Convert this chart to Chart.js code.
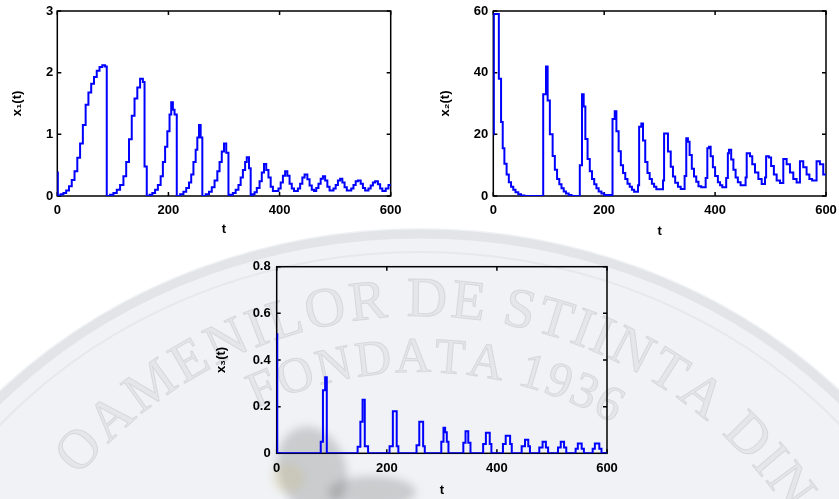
<!DOCTYPE html>
<html>
<head>
<meta charset="utf-8">
<script src="https://cdn.jsdelivr.net/npm/chart.js@4.4.1/dist/chart.umd.min.js"></script>
<style>
  body { margin: 0; background: #fff; }
  #wrap { position: relative; width: 839px; height: 499px; overflow: hidden; }
  canvas { position: absolute; }
</style>
</head>
<body>
<div id="wrap">
  <canvas id="seal" width="839" height="499" style="left:0;top:0"></canvas>
  <canvas id="c1" width="415" height="240" style="left:0;top:0"></canvas>
  <canvas id="c2" width="419" height="240" style="left:420px;top:0"></canvas>
  <canvas id="c3" width="440" height="249" style="left:200px;top:250px"></canvas>
</div>
<script>
// Tick labels
const tTicks = [0, 200, 400, 600];
const x1Ticks = [0, 1, 2, 3];
const x2Ticks = [0, 20, 40, 60];
const x3Ticks = [0, 0.2, 0.4, 0.6, 0.8];

// x1(t): step changes (time, value)
const x1Time = [0, 1, 6, 11, 16, 21, 26, 31, 36, 41, 46, 51, 56, 61, 66, 71, 76, 81, 86, 89,
  95, 101, 107, 113, 119, 124, 129, 134, 139, 144, 149, 154, 157, 161,
  166, 171, 176, 181, 186, 190, 194, 198, 202, 205, 208, 211, 215,
  221, 227, 232, 237, 241, 245, 249, 252, 255, 258, 261,
  267, 273, 278, 283, 288, 292, 296, 300, 304, 308,
  311, 316, 321, 326, 330, 334, 338, 341, 345, 348,
  351, 355, 359, 364, 368, 372, 376, 380, 384, 388,
  398, 402, 406, 410, 414, 418, 422, 426,
  433, 437, 441, 445, 450, 454, 458, 462,
  466, 470, 474, 478, 482, 486, 490,
  497, 501, 505, 509, 513, 517, 521,
  529, 533, 537, 541, 546, 550, 554,
  560, 564, 568, 572, 577, 581, 585, 591, 596, 600];
const x1Value = [0.38, 0.01, 0.03, 0.05, 0.09, 0.16, 0.26, 0.4, 0.62, 0.85, 1.15, 1.48, 1.68, 1.82, 1.93, 2.03, 2.09, 2.12, 2.1, 0,
  0.02, 0.05, 0.1, 0.18, 0.32, 0.55, 0.92, 1.3, 1.58, 1.76, 1.9, 1.85, 0.48, 0,
  0.02, 0.05, 0.1, 0.18, 0.32, 0.55, 0.8, 1.05, 1.32, 1.52, 1.4, 1.32, 0,
  0.03, 0.07, 0.13, 0.22, 0.35, 0.55, 0.75, 0.95, 1.15, 0.95, 0,
  0.03, 0.07, 0.14, 0.25, 0.4, 0.55, 0.72, 0.85, 0.7, 0,
  0.02, 0.05, 0.1, 0.18, 0.3, 0.42, 0.55, 0.63, 0.45, 0,
  0.03, 0.06, 0.13, 0.24, 0.38, 0.52, 0.42, 0.3, 0.15, 0.08,
  0.12, 0.22, 0.33, 0.4, 0.33, 0.2, 0.12, 0.08,
  0.12, 0.2, 0.3, 0.35, 0.27, 0.17, 0.1, 0.08,
  0.13, 0.2, 0.28, 0.32, 0.25, 0.15, 0.09,
  0.12, 0.18, 0.25, 0.28, 0.22, 0.14, 0.09,
  0.12, 0.18, 0.24, 0.25, 0.2, 0.13, 0.09,
  0.12, 0.17, 0.22, 0.24, 0.19, 0.12, 0.08, 0.12, 0.18, 0.2];

// x2(t)
const x2Time = [0, 1, 10, 14, 17, 20, 24, 28, 32, 36, 40, 45, 50, 56,
  90, 95, 98, 102, 107, 111, 115, 119, 123, 127, 131, 136, 141,
  156, 160, 163, 166, 170, 174, 178, 182, 186, 190, 195, 200,
  215, 219, 222, 226, 230, 234, 238, 242, 246, 250, 254,
  261, 263, 267, 270, 274, 278, 282, 286, 290, 294,
  306, 308, 315, 320, 324, 328, 333, 338,
  345, 348, 351, 354, 358, 362, 366, 370, 375,
  383, 386, 389, 392, 396, 400, 405, 409, 413,
  420, 423, 425, 429, 433, 437, 441, 446,
  455, 457, 463, 467, 472, 478, 484,
  490, 492, 497, 501, 506, 511, 517,
  523, 529, 535, 541, 547,
  553, 559, 565, 570, 575,
  583, 589, 595, 600];
const x2Value = [20, 59, 38, 24, 15.5, 10.5, 7, 4.5, 3, 2, 1.2, 0.6, 0.2, 0,
  33, 42, 31, 20, 13, 8.5, 5.5, 3.8, 2.5, 1.5, 0.8, 0.3, 0,
  10, 33, 29, 18.5, 12, 8, 5.5, 3.8, 2.5, 1.5, 0.8, 0.3,
  25, 27.5, 21, 14.5, 10, 7.5, 5.5, 4, 3, 2, 1.4,
  3.5, 22.5, 23.5, 18, 11, 7.5, 5.5, 4, 3, 2.2,
  5, 20.3, 14.4, 9.5, 6.3, 4.3, 3, 2.3,
  6.5, 18.7, 17.6, 13.3, 8.8, 6.3, 4.6, 3.2, 2.8,
  5.8, 15.5, 16, 12.9, 9.3, 6.5, 4.5, 3.5, 2.8,
  5.8, 13.9, 15, 11.8, 8.5, 6, 4.5, 3.5,
  6, 13.9, 12.9, 10.3, 7.6, 5.5, 3.9,
  6, 12.9, 12.5, 9.7, 7, 5, 4.2,
  12, 10.3, 7.6, 5.5, 4.4,
  11.3, 9.3, 7, 5.5, 5,
  11.3, 10.3, 7, 7];

// x3(t)
const x3Time = [0, 1,
  80, 84, 88, 91,
  147, 152, 156, 160, 166,
  205, 211, 218, 221,
  254, 259, 266, 269,
  299, 303, 306, 309, 312,
  339, 343, 348, 352,
  375, 380, 387, 390,
  411, 416, 424, 427,
  445, 451, 457, 460,
  477, 483, 489, 493,
  511, 516, 522, 526,
  543, 547, 554, 558,
  574, 578, 586, 590, 600];
const x3Value = [0.51, 0,
  0.05, 0.27, 0.326, 0,
  0.028, 0.135, 0.23, 0.03, 0,
  0.03, 0.18, 0.03, 0,
  0.035, 0.135, 0.03, 0,
  0.05, 0.11, 0.09, 0.05, 0,
  0.045, 0.095, 0.045, 0,
  0.04, 0.088, 0.04, 0,
  0.04, 0.075, 0.04, 0,
  0.03, 0.058, 0.03, 0,
  0.025, 0.05, 0.025, 0,
  0.025, 0.05, 0.025, 0,
  0.02, 0.042, 0.02, 0,
  0.02, 0.042, 0.02, 0, 0];

const tickFont = { family: '"Liberation Sans", Arial, sans-serif', size: 13, weight: 'bold' };
const titleFont = { family: '"Liberation Sans", Arial, sans-serif', size: 13, weight: 'bold' };
const yTitleFont = { family: '"Liberation Sans", Arial, sans-serif', size: 13, weight: 'bold' };

// box around the plot with inward ticks on all sides
const framePlugin = {
  id: 'frame',
  beforeDatasetsDraw(chart) {
    const { ctx, chartArea: a, scales: { x, y } } = chart;
    ctx.save();
    ctx.strokeStyle = '#000';
    ctx.lineWidth = 1.5;
    ctx.strokeRect(a.left, a.top, a.right - a.left, a.bottom - a.top);
    ctx.beginPath();
    x.ticks.forEach(tk => {
      const px = x.getPixelForValue(tk.value);
      ctx.moveTo(px, a.bottom); ctx.lineTo(px, a.bottom - 4);
      ctx.moveTo(px, a.top); ctx.lineTo(px, a.top + 4);
    });
    y.ticks.forEach(tk => {
      const py = y.getPixelForValue(tk.value);
      ctx.moveTo(a.left, py); ctx.lineTo(a.left + 4, py);
      ctx.moveTo(a.right, py); ctx.lineTo(a.right - 4, py);
    });
    ctx.stroke();
    ctx.restore();
  }
};

function makeChart(id, times, values, yTicks, yLabel, pad, yWidth, xHeight, yPad) {
  return new Chart(document.getElementById(id), {
    type: 'line',
    data: {
      datasets: [{
        data: times.map((t, i) => ({ x: t, y: values[i] })),
        borderColor: '#0000ff',
        borderWidth: 2,
        stepped: true,
        pointRadius: 0,
        fill: false
      }]
    },
    options: {
      responsive: false,
      animation: false,
      layout: { padding: pad },
      plugins: { legend: { display: false }, tooltip: { enabled: false } },
      scales: {
        x: {
          type: 'linear',
          min: tTicks[0],
          max: tTicks[tTicks.length - 1],
          afterBuildTicks: s => { s.ticks = tTicks.map(v => ({ value: v })); },
          afterFit: s => { s.height = xHeight; s.paddingLeft = 0; s.paddingRight = 0; },
          grid: { display: false, drawTicks: false },
          border: { display: false },
          ticks: { color: '#000', font: tickFont, padding: 7, maxRotation: 0, autoSkip: false },
          title: { display: true, text: 't', color: '#000', font: titleFont, padding: 0 }
        },
        y: {
          type: 'linear',
          min: yTicks[0],
          max: yTicks[yTicks.length - 1],
          afterBuildTicks: s => { s.ticks = yTicks.map(v => ({ value: v })); },
          afterFit: s => { s.width = yWidth; s.paddingTop = 0; s.paddingBottom = 0; },
          grid: { display: false, drawTicks: false },
          border: { display: false },
          ticks: { color: '#000', font: tickFont, padding: yPad, autoSkip: false },
          title: { display: true, text: yLabel, color: '#000', font: yTitleFont, padding: 0 }
        }
      }
    },
    plugins: [framePlugin]
  });
}

// faint seal watermark behind the plots
function arcText(g, text, cx, cy, r, a0, a1, font) {
  g.save();
  g.font = font;
  g.textAlign = 'center';
  g.textBaseline = 'alphabetic';
  const chars = [...text];
  const widths = chars.map(ch => g.measureText(ch).width);
  let total = 0;
  for (let i = 1; i < chars.length; i++) total += (widths[i - 1] + widths[i]) / 2;
  let acc = 0;
  chars.forEach((ch, i) => {
    if (i > 0) acc += (widths[i - 1] + widths[i]) / 2;
    const a = (a0 + (a1 - a0) * acc / total) * Math.PI / 180;
    g.save();
    g.translate(cx + r * Math.cos(a), cy + r * Math.sin(a));
    g.rotate(a + Math.PI / 2);
    g.fillStyle = '#e4e6e9';
    g.fillText(ch, 0, 0);
    g.strokeStyle = '#d6d8db';
    g.lineWidth = 1;
    g.strokeText(ch, 0, 0);
    g.restore();
  });
  g.restore();
}

function drawSeal() {
  const g = document.getElementById('seal').getContext('2d');
  const cx = 420, cy = 760;
  g.fillStyle = '#ffffff';
  g.fillRect(0, 0, 839, 499);
  // slightly wide ellipse so the rim reaches the sides higher up
  g.save();
  g.translate(cx, cy);
  g.scale(1.1, 1);
  g.fillStyle = '#f0f2f5';
  g.beginPath(); g.arc(0, 0, 532, 0, Math.PI * 2); g.fill();
  g.strokeStyle = '#e2e4e7';
  g.lineWidth = 9;
  g.beginPath(); g.arc(0, 0, 526, 0, Math.PI * 2); g.stroke();
  g.strokeStyle = '#e6e8eb';
  g.lineWidth = 2;
  g.beginPath(); g.arc(0, 0, 508, 0, Math.PI * 2); g.stroke();
  g.restore();
  arcText(g, 'OAMENILOR DE STIINTA DIN', cx, cy, 444, -137.7, -36.5, '56px "Liberation Serif", serif');
  arcText(g, 'FONDATA 1936', cx, cy, 388, -113, -62, '50px "Liberation Serif", serif');
  // faded emblem figure near the bottom
  g.save();
  g.filter = 'blur(4px)';
  g.fillStyle = 'rgba(70, 70, 70, 0.22)';
  g.beginPath(); g.ellipse(312, 470, 34, 44, -0.3, 0, Math.PI * 2); g.fill();
  g.beginPath(); g.ellipse(372, 492, 44, 16, 0, 0, Math.PI * 2); g.fill();
  g.fillStyle = 'rgba(200, 180, 90, 0.18)';
  g.beginPath(); g.ellipse(288, 478, 16, 14, 0, 0, Math.PI * 2); g.fill();
  g.restore();
}

drawSeal();
makeChart('c1', x1Time, x1Value, x1Ticks, 'x\u2081(t)', { left: 9.2, top: 11, right: 24.3, bottom: 3.2 }, 48.1, 40.8, 4);
makeChart('c2', x2Time, x2Value, x2Ticks, 'x\u2082(t)', { left: 17.2, top: 11, right: 13, bottom: 1.2 }, 56.1, 42.8, 5);
makeChart('c3', x3Time, x3Value, x3Ticks, 'x\u2083(t)', { left: 13.2, top: 16.7, right: 33, bottom: 1.2 }, 63.5, 44.5, 6);
</script>
</body>
</html>
